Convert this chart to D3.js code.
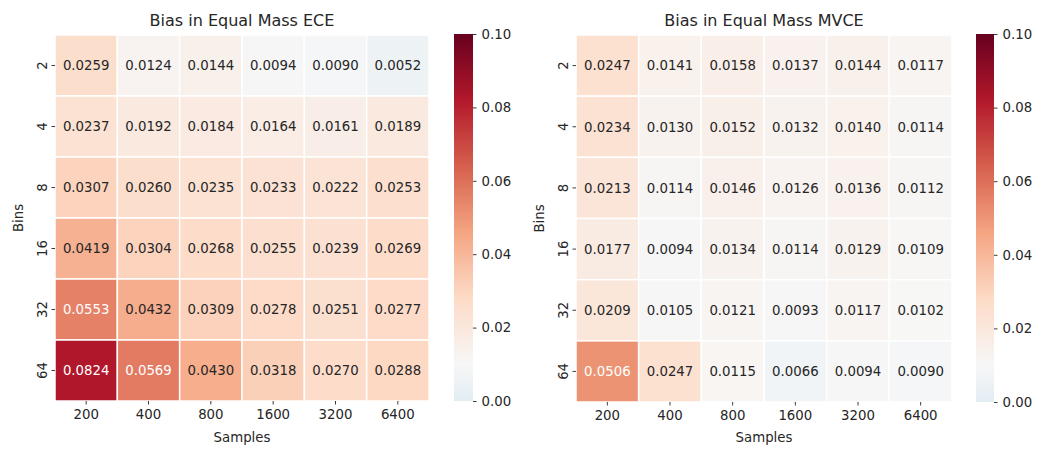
<!DOCTYPE html>
<html>
<head>
<meta charset="utf-8">
<script src="https://cdn.jsdelivr.net/npm/d3@7"></script>
<style>
body{margin:0;background:#fff}
text{font-family:"DejaVu Sans",sans-serif;fill:#262626}
</style>
</head>
<body>
<script>
// data
var samples = ["200","400","800","1600","3200","6400"]
var bins = ["2","4","8","16","32","64"]
var cbarTicks = [0,0.02,0.04,0.06,0.08,0.10]
var eceValues = [
    [0.0259,0.0124,0.0144,0.0094,0.0090,0.0052],
    [0.0237,0.0192,0.0184,0.0164,0.0161,0.0189],
    [0.0307,0.0260,0.0235,0.0233,0.0222,0.0253],
    [0.0419,0.0304,0.0268,0.0255,0.0239,0.0269],
    [0.0553,0.0432,0.0309,0.0278,0.0251,0.0277],
    [0.0824,0.0569,0.0430,0.0318,0.0270,0.0288]
]
var mvceValues = [
    [0.0247,0.0141,0.0158,0.0137,0.0144,0.0117],
    [0.0234,0.0130,0.0152,0.0132,0.0140,0.0114],
    [0.0213,0.0114,0.0146,0.0126,0.0136,0.0112],
    [0.0177,0.0094,0.0134,0.0114,0.0129,0.0109],
    [0.0209,0.0105,0.0121,0.0093,0.0117,0.0102],
    [0.0506,0.0247,0.0115,0.0066,0.0094,0.0090]
]

var W=1052,H=459
var vmin=0,vmax=0.1,center=0.01

// matplotlib RdBu_r, linear segments
var rdbu=["#053061","#2166ac","#4393c3","#92c5de","#d1e5f0","#f7f7f7","#fddbc7","#f4a582","#d6604d","#b2182b","#67001f"]
var cmap=d3.scaleLinear().domain(d3.range(11).map(function(i){return i/10})).range(rdbu).interpolate(d3.interpolateRgb)
// seaborn "center": only the part of the map above center-vrange is used
var vrange=Math.max(vmax-center,center-vmin)
var norm=d3.scaleLinear().domain([center-vrange,center+vrange]).range([0,1])
function color(v){return cmap(norm(Math.max(vmin,Math.min(vmax,v))))}

function lum(c){
    var rgb=d3.rgb(c)
    var f=function(x){x=x/255;return x<=0.03928?x/12.92:Math.pow((x+0.055)/1.055,2.4)}
    return 0.2126*f(rgb.r)+0.7152*f(rgb.g)+0.0722*f(rgb.b)
}

var svg=d3.select("body").append("svg").attr("width",W).attr("height",H)
var defs=svg.append("defs")

function heatmap(id,title,values,box,cb){
    var g=svg.append("g")
    var x=d3.scaleBand().domain(samples).range([box.x0,box.x1])
    var y=d3.scaleBand().domain(bins).range([box.y0,box.y1])
    var cells=[]
    for(var i=0;i<bins.length;i++)
        for(var j=0;j<samples.length;j++)
            cells.push({r:bins[i],c:samples[j],v:values[i][j]})

    g.selectAll("rect.cell").data(cells).enter().append("rect")
        .attr("class","cell")
        .attr("x",function(d){return x(d.c)})
        .attr("y",function(d){return y(d.r)})
        .attr("width",x.bandwidth())
        .attr("height",y.bandwidth())
        .attr("fill",function(d){return color(d.v)})
        .attr("stroke","#fff")
        .attr("stroke-width",1.5)

    g.selectAll("text.annot").data(cells).enter().append("text")
        .attr("x",function(d){return x(d.c)+x.bandwidth()/2})
        .attr("y",function(d){return y(d.r)+y.bandwidth()/2})
        .attr("dy","0.36em")
        .attr("text-anchor","middle")
        .style("font-size","13.3px")
        .style("fill",function(d){return lum(color(d.v))>0.408?"#262626":"#ffffff"})
        .text(function(d){return d.v.toFixed(4)})

    var xa=g.append("g").attr("transform","translate(0,"+box.y1+")")
        .call(d3.axisBottom(x).tickSize(3.5).tickPadding(5))
    var ya=g.append("g").attr("transform","translate("+box.x0+",0)")
        .call(d3.axisLeft(y).tickSize(3.5).tickPadding(3))
    ;[xa,ya].forEach(function(a){
        a.select(".domain").remove()
        a.selectAll("line").attr("stroke","#262626").attr("stroke-width",0.9)
        a.selectAll("text").style("font-size","13.3px").attr("fill","#262626")
    })
    // y tick labels stand upright like matplotlib's vertical ones
    ya.selectAll(".tick text")
        .attr("transform","rotate(-90)")
        .attr("x",0).attr("dy",0)
        .attr("y",-8.5)
        .attr("text-anchor","middle")

    g.append("text").attr("x",(box.x0+box.x1)/2).attr("y",26)
        .attr("text-anchor","middle").style("font-size","16px").text(title)
    g.append("text").attr("x",(box.x0+box.x1)/2).attr("y",442)
        .attr("text-anchor","middle").style("font-size","13.3px").text("Samples")
    g.append("text")
        .attr("transform","translate("+(box.x0-32)+","+((box.y0+box.y1)/2)+") rotate(-90)")
        .attr("text-anchor","middle").style("font-size","13.3px").text("Bins")

    // colorbar
    var grad=defs.append("linearGradient").attr("id",id)
        .attr("x1",0).attr("y1",1).attr("x2",0).attr("y2",0)
    d3.range(0,1.0001,0.02).forEach(function(t){
        grad.append("stop").attr("offset",t).attr("stop-color",color(vmin+t*(vmax-vmin)))
    })
    g.append("rect").attr("x",cb.x0).attr("y",cb.y0)
        .attr("width",cb.x1-cb.x0).attr("height",cb.y1-cb.y0)
        .attr("fill","url(#"+id+")")
    var cy=d3.scaleLinear().domain([vmin,vmax]).range([cb.y1,cb.y0])
    var ca=g.append("g").attr("transform","translate("+cb.x1+",0)")
        .call(d3.axisRight(cy).tickValues(cbarTicks).tickFormat(d3.format(".2f")).tickSize(3.5).tickPadding(5))
    ca.select(".domain").remove()
    ca.selectAll("line").attr("stroke","#262626").attr("stroke-width",0.9)
    ca.selectAll("text").style("font-size","13.3px").attr("fill","#262626")
}

heatmap("cbEce","Bias in Equal Mass ECE",eceValues,{x0:55,x1:429,y0:35,y1:401},{x0:454,x1:473,y0:34,y1:401})
heatmap("cbMvce","Bias in Equal Mass MVCE",mvceValues,{x0:576,x1:952,y0:35,y1:402},{x0:976,x1:994,y0:34,y1:402})
</script>
</body>
</html>
